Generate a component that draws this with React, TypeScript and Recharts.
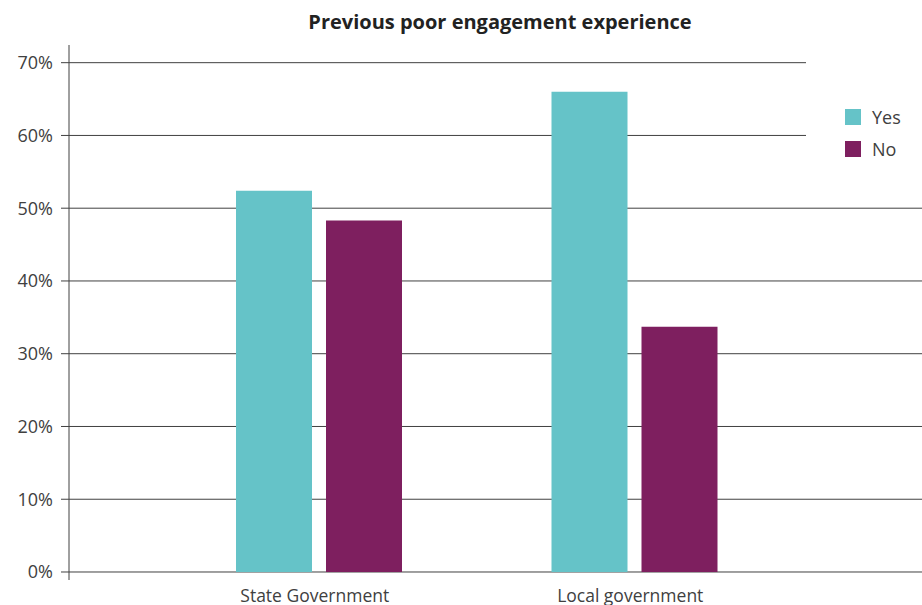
import React from "react";
import { BarChart, Bar, XAxis, YAxis, CartesianGrid, Legend } from "recharts";

const categories = ["State Government", "Local government"];
const yesValues = [0.524, 0.66];
const noValues = [0.483, 0.337];
const yTicks = [0, 0.1, 0.2, 0.3, 0.4, 0.5, 0.6, 0.7];
const yDomain = [-0.011, 0.7243];
const seriesNames = ["Yes", "No"];
const title = "Previous poor engagement experience";

const data = categories.map((c, i) => ({ name: c, Yes: yesValues[i], No: noValues[i] }));

const FONT = "'Open Sans', 'Noto Sans', sans-serif";
const TEXT = "#404040";
const YES_COLOR = "#65C3C8";
const NO_COLOR = "#7E1F5F";

const LegendContent = () => (
  <div style={{ background: "#fff", width: 116, height: 110, fontFamily: FONT, paddingTop: 39, boxSizing: "border-box" }}>
    {seriesNames.map((n, i) => (
      <div key={n} style={{ display: "flex", alignItems: "center", height: 32, marginLeft: 39 }}>
        <div style={{ width: 16, height: 16, background: i === 0 ? YES_COLOR : NO_COLOR }} />
        <span style={{ marginLeft: 11, fontSize: 18, color: TEXT }}>{n}</span>
      </div>
    ))}
  </div>
);

const CatTick = (props: any) => {
  const { x, payload } = props;
  return (
    <text x={x - 4} y={602} textAnchor="middle" fontSize={17.5} fill={TEXT} fontFamily={FONT}>
      {payload.value}
    </text>
  );
};

const gridGen = (p: any) => {
  const s = p?.yAxis?.scale;
  return yTicks.map((t) => {
    if (typeof s === "function") return s(t);
    if (s && typeof s.map === "function") return s.map(t);
    const top = p.offset.top;
    const h = p.offset.height;
    return top + (h * (yDomain[1] - t)) / (yDomain[1] - yDomain[0]);
  });
};

export default function App() {
  return (
    <div style={{ position: "absolute", left: 0, top: 0, width: 922, height: 605, background: "#fff" }}>
      <div
        style={{
          position: "absolute",
          left: 0,
          top: 8,
          width: 1000,
          textAlign: "center",
          fontFamily: FONT,
          fontWeight: 700,
          fontSize: 20,
          color: "#222",
          zIndex: 2,
        }}
      >
        {title}
      </div>
      <BarChart
        width={922}
        height={605}
        data={data}
        margin={{ top: 45, right: 0, bottom: 0, left: 0 }}
        barSize={76}
        barGap={14}
      >
        <CartesianGrid
          vertical={false}
          stroke="#404040"
          strokeWidth={1}
          horizontalCoordinatesGenerator={gridGen}
        />
        <XAxis
          dataKey="name"
          axisLine={false}
          tickLine={false}
          height={25}
          padding={{ left: 92, right: 130 }}
          tick={<CatTick />}
          interval={0}
        />
        <YAxis
          width={69}
          domain={yDomain}
          ticks={yTicks}
          allowDataOverflow
          tickFormatter={(v: number) => `${Math.round(v * 100)}%`}
          axisLine={{ stroke: "#404040" }}
          tickLine={{ stroke: "#404040" }}
          tickSize={8}
          tickMargin={8}
          tick={{ fontSize: 18, fill: TEXT, fontFamily: FONT }}
        />
        <Legend
          layout="vertical"
          align="center"
          verticalAlign="middle"
          wrapperStyle={{ left: 806, top: 62, width: 116, height: 110 }}
          content={<LegendContent />}
        />
        <Bar dataKey="Yes" fill={YES_COLOR} isAnimationActive={false} />
        <Bar dataKey="No" fill={NO_COLOR} isAnimationActive={false} />
      </BarChart>
    </div>
  );
}
